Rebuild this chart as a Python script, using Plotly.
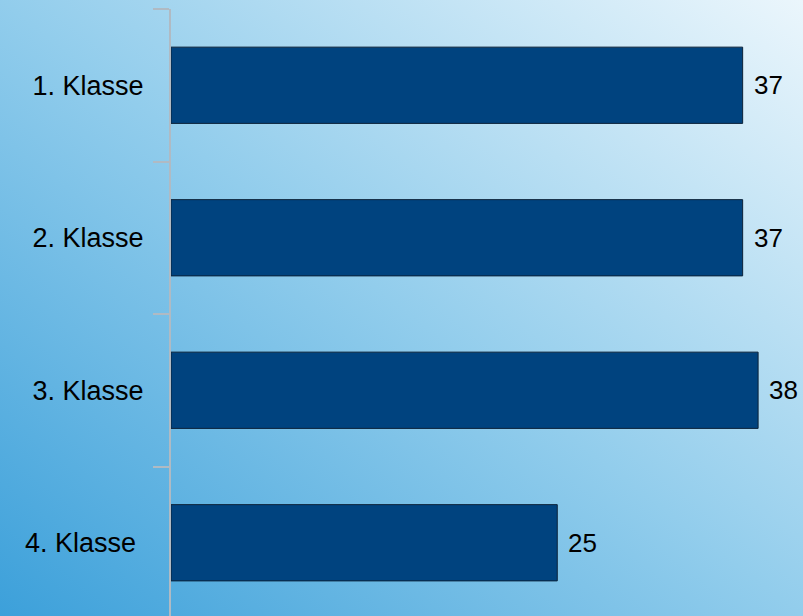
import base64
import plotly.graph_objects as go

categories = ["1. Klasse", "2. Klasse", "3. Klasse", "4. Klasse"]
tick_labels = ["1. Klasse", "2. Klasse", "3. Klasse", "4. Klasse\u00a0"]
values = [37, 37, 38, 25]

W, H = 803, 616
L, R, T, B = 171, 0, 9, 0
pw, ph = W - L - R, H - T - B

svg = (
    '<svg xmlns="http://www.w3.org/2000/svg" width="803" height="616" preserveAspectRatio="none">'
    '<defs><linearGradient id="g" x1="0" y1="1" x2="1" y2="0">'
    '<stop offset="0" stop-color="#3CA0DA"/>'
    '<stop offset="0.5" stop-color="#92CDEC"/>'
    '<stop offset="1" stop-color="#EBF6FC"/>'
    '</linearGradient></defs>'
    '<rect width="803" height="616" fill="url(#g)"/></svg>'
)
src = "data:image/svg+xml;base64," + base64.b64encode(svg.encode()).decode()

fig = go.Figure(go.Bar(
    x=values, y=categories, orientation="h", width=0.5,
    marker=dict(color="#00437F", line=dict(color="#0B2238", width=1)),
    hoverinfo="skip",
))

for c, v in zip(categories, values):
    fig.add_annotation(x=v, y=c, text=str(v), showarrow=False, xanchor="left",
                       xshift=9, font=dict(family="Liberation Sans, Arial", size=26, color="#000000"))

px_per_unit = 15.45
fig.update_layout(
    width=W, height=H,
    margin=dict(l=L, r=R, t=T, b=B, pad=0),
    paper_bgcolor="rgba(0,0,0,0)", plot_bgcolor="rgba(0,0,0,0)",
    showlegend=False,
    images=[dict(source=src, xref="paper", yref="paper",
                 x=-L / pw, y=1 + T / ph, sizex=W / pw, sizey=H / ph,
                 xanchor="left", yanchor="top", sizing="stretch", layer="below")],
    xaxis=dict(range=[0, pw / px_per_unit], visible=False, fixedrange=True),
    yaxis=dict(
        type="category", range=[-0.5 + ph / 152.5, -0.5],
        tickmode="array", tickvals=categories, ticktext=tick_labels,
        showline=True, linecolor="#B0BAC3", linewidth=2,
        ticks="outside", ticklen=16, tickcolor="#B0BAC3", tickwidth=2,
        tickson="boundaries", showgrid=False, zeroline=False,
        ticklabelstandoff=20,
        tickfont=dict(family="Liberation Sans, Arial", size=27, color="#000000"),
    ),
)

fig.write_html(
    "out.html",
    config={"displayModeBar": False},
    post_script="document.body.style.margin='0';document.body.style.padding='0';",
)
